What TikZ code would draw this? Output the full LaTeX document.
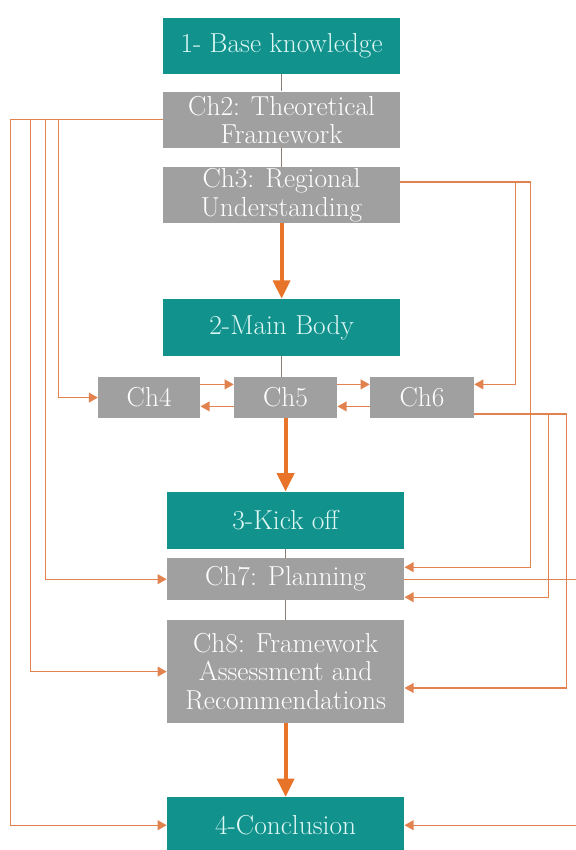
\documentclass[tikz,border=0pt]{standalone}
\usepackage{tikz}
\usetikzlibrary{arrows.meta}
\definecolor{stageteal}{RGB}{17,146,141}
\definecolor{stagetext}{RGB}{222,247,243}
\definecolor{chgrey}{RGB}{160,160,160}
\definecolor{linkorange}{RGB}{226,130,78}
\definecolor{floworange}{RGB}{232,116,42}
\definecolor{tiegrey}{RGB}{140,128,118}

\begin{document}
\begin{tikzpicture}[font=\fontsize{19.5}{20}\selectfont,
    stage/.style={fill=stageteal, text=stagetext, minimum width=5.93cm, minimum height=1.4cm, inner sep=0pt, align=center},
    chapter/.style={fill=chgrey, text=white, minimum width=5.93cm, minimum height=1.4cm, inner sep=0pt, align=center},
    link/.style={draw=linkorange, line width=0.9pt, -{Triangle[length=6.5pt,width=7pt]}},
    flow/.style={draw=floworange, line width=2.8pt, -{Triangle[length=13pt,width=12pt]}},
    tie/.style={draw=tiegrey, line width=0.7pt}]
    \useasboundingbox (0,0) rectangle (14.375,-21.25);

    \node (base) [stage] at (7.04, -1.14) {1- Base knowledge};
    \node (ch2) [chapter] at (7.04, -2.99) {Ch2: Theoretical\\Framework};
    \node (ch3) [chapter] at (7.04, -4.88) {Ch3: Regional\\Understanding};
    \node (body) [stage, minimum height=1.43cm] at (7.04, -8.19) {2-Main Body};
    \node (ch4) [chapter, minimum width=2.55cm, minimum height=1.03cm] at (3.73, -9.94) {Ch4};
    \node (ch5) [chapter, minimum width=2.58cm, minimum height=1.03cm] at (7.14, -9.94) {Ch5};
    \node (ch6) [chapter, minimum width=2.6cm, minimum height=1.03cm] at (10.55, -9.94) {Ch6};
    \node (kick) [stage, minimum height=1.43cm] at (7.14, -13.01) {3-Kick off};
    \node (ch7) [chapter, minimum height=1.05cm] at (7.14, -14.48) {Ch7: Planning};
    \node (ch8) [chapter, minimum height=2.58cm] at (7.14, -16.79) {Ch8: Framework\\Assessment and\\Recommendations};
    \node (concl) [stage] at (7.14, -20.63) {4-Conclusion};

    \draw[tie] (base) -- (ch2);
    \draw[tie] (ch2) -- (ch3);
    \draw[tie] (body.south) -- (body.south |- ch5.north);
    \draw[tie] (kick) -- (ch7);
    \draw[tie] (ch7) -- (ch8);

    \draw[flow] (ch3.south) -- (body.north);
    \draw[flow] (ch5.south) -- (kick.north);
    \draw[flow] (ch8) -- (concl);

    \draw[link] (ch2.west) -- ++(-3.8, 0) |- (concl.west);
    \draw[link] (ch2.west) -- ++(-3.3, 0) |- (ch8.west);
    \draw[link] (ch2.west) -- ++(-2.925, 0) |- (ch7.west);
    \draw[link] (ch2.west) -- ++(-2.6, 0) |- (ch4.west);

    \draw[link] ([yshift=0.33cm]ch4.east) -- ([yshift=0.33cm]ch5.west);
    \draw[link] ([yshift=-0.22cm]ch5.west) -- ([yshift=-0.22cm]ch4.east);
    \draw[link] ([yshift=0.33cm]ch5.east) -- ([yshift=0.33cm]ch6.west);
    \draw[link] ([yshift=-0.22cm]ch6.west) -- ([yshift=-0.22cm]ch5.east);

    \draw[link] ([yshift=0.33cm]ch3.east) -- ++(2.87, 0) |- ([yshift=0.33cm]ch6.east);
    \draw[link] ([yshift=0.33cm]ch3.east) -- ++(3.245, 0) |- ([yshift=0.3cm]ch7.east);
    \draw[link] ([yshift=-0.41cm]ch6.east) -- ++(1.85, 0) |- ([yshift=-0.45cm]ch7.east);
    \draw[link] ([yshift=-0.41cm]ch6.east) -- ++(2.3, 0) |- ([yshift=-0.41cm]ch8.east);
    \draw[link] (ch7.east) -- ++(4.295, 0) |- (concl.east);
\end{tikzpicture}
\end{document}
